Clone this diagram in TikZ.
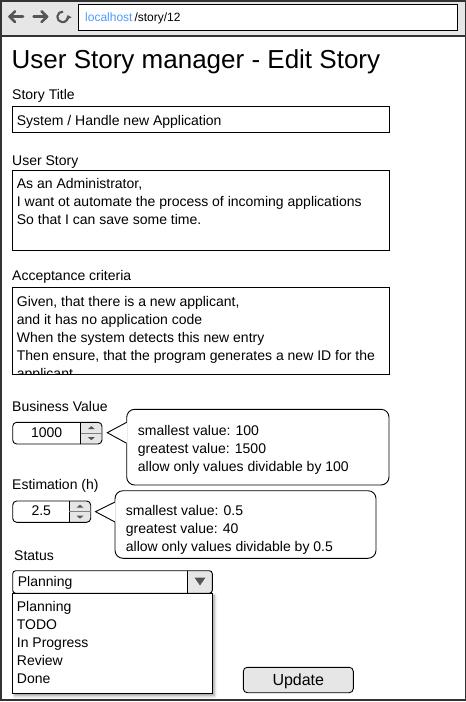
\documentclass[tikz,border=0pt]{standalone}
\usepackage{fontspec}
\setmainfont{Liberation Sans}
\usepackage{tikz}
\usetikzlibrary{arrows.meta,shadows.blur}

\definecolor{barGray}{HTML}{E6E6E6}
\definecolor{iconGray}{HTML}{555555}
\definecolor{linkBlue}{HTML}{4D9BFF}
\definecolor{frameGray}{HTML}{333333}

\begin{document}
\begin{tikzpicture}[x=1pt,y=-1pt]

    \tikzstyle{frame}=[draw=frameGray, line width=1.5pt]
    \tikzstyle{box}=[draw=black, line width=0.9pt]
    \tikzstyle{button}=[box, fill=barGray]
    \tikzstyle{hintbox}=[box, rounded corners=8pt]
    \tikzstyle{icon}=[draw=iconGray, line width=2.6pt, line cap=round, line join=round]
    \tikzstyle{txt}=[inner sep=0pt, anchor=base west, font=\fontsize{14}{18}\selectfont]
    \tikzstyle{ctxt}=[txt, anchor=base]

    \def \lineH {18} % line distance of the multi line texts

    \newcommand\textlines[4]{
        \foreach \txtline [count=\i] in {#4}
            \node[txt] (#1\i) at (#2, {#3 + \lineH*(\i - 1)}) {\txtline};
    }
    %\textlines{name}{x}{first baseline}{lines};

    \newcommand\spinner[5]{
        \begin{scope}
            \clip[rounded corners=4pt] (#1,#2) rectangle (#3,#4);
            \fill[barGray] (#5,#2) rectangle (#3,#4);
        \end{scope}
        \draw[box, rounded corners=4pt] (#1,#2) rectangle (#3,#4);
        \draw[box] (#5,#2) -- (#5,#4);
        \draw[draw=gray, line width=0.5pt] (#5,{(#2+#4)/2}) -- (#3,{(#2+#4)/2});
        \fill[iconGray] ({(#5+#3)/2 - 3.5},{(#2+#4)/2 - 4}) -- ++(7,0) -- ++(-3.5,-3) -- cycle;
        \fill[iconGray] ({(#5+#3)/2 - 3.5},{(#2+#4)/2 + 4}) -- ++(7,0) -- ++(-3.5,3) -- cycle;
    }
    %\spinner{x1}{y1}{x2}{y2}{button x};

    \useasboundingbox (0,0) rectangle (466,702);

    % browser bar
    \fill[barGray] (0.75,0.75) rectangle (465.25,36);
    \draw[box, fill=white] (78.7,4.7) rectangle (457.3,30.7);
    \node[txt, font=\fontsize{12}{14}\selectfont] (url) at (85,21.7) {\textcolor{linkBlue}{localhost}\,/story/12};
    \draw[icon] (23,16.7) -- (9.6,16.7);
    \draw[icon] (15,11.4) -- (9.6,16.7) -- (15,22);
    \draw[icon] (33.6,16.7) -- (47,16.7);
    \draw[icon] (41.6,11.4) -- (47,16.7) -- (41.6,22);
    \draw[icon, line width=2.1pt, line cap=butt, -{Triangle[length=3.6pt,width=6pt]}] ([shift={(275:5.3)}]62.6,16.9) arc (275:-20:5.3);

    % page frame
    \draw[frame] (0.75,0.75) rectangle (465.25,700);
    \draw[frame] (0.75,36) -- (465.25,36);

    % heading and form labels
    \node[txt, font=\fontsize{26}{30}\selectfont] (page_title) at (11.5,68.3) {User Story manager - Edit Story};
    \node[txt] (title_lbl) at (12,99.3) {Story Title};
    \node[txt] (story_lbl) at (12,165) {User Story};
    \node[txt] (accept_lbl) at (12,280) {Acceptance criteria};
    \node[txt] (value_lbl) at (12,411.7) {Business Value};
    \node[txt] (estim_lbl) at (12,489.3) {Estimation (h)};
    \node[txt] (status_lbl) at (14,560) {Status};

    % text fields
    \draw[box] (12.7,106.7) rectangle (389.3,132.3);
    \node[txt] (title_val) at (16.7,125) {System / Handle new Application};

    \draw[box] (12.7,170.7) rectangle (389.3,250);
    \textlines{story}{16.7}{188.5}{{As an Administrator,},{I want ot automate the process of incoming applications},{So that I can save some time.}};

    \begin{scope}
        \clip (12.7,287.7) rectangle (389.3,374.3);
        \textlines{accept}{16.7}{306}{{Given, that there is a new applicant,},{and it has no application code},{When the system detects this new entry},{Then ensure, that the program generates a new ID for the},{applicant}};
    \end{scope}
    \draw[box] (12.7,287.7) rectangle (389.3,374.3);

    % number inputs
    \spinner{12.7}{422.3}{102}{444}{80.7};
    \node[ctxt] (value_val) at (46.7,437.3) {1000};
    \spinner{12.7}{501}{90.7}{522.3}{69.3};
    \node[ctxt] (estim_val) at (41.3,515) {2.5};

    % hints next to the number inputs
    \draw[hintbox] (126.7,409.3) rectangle (389,485);
    \fill[white] (107.3,432.7) -- (127.4,421.6) -- (127.4,444) -- cycle;
    \draw[box, line join=miter] (126.7,422.3) -- (107.3,432.7) -- (126.7,443.3);
    \textlines{value_hint}{137.7}{435}{{smallest value: 100},{greatest value: 1500},{allow only values dividable by 100}};

    \draw[hintbox] (115,490.7) rectangle (376,558.3);
    \fill[white] (95.5,511.7) -- (115.7,501.3) -- (115.7,522.7) -- cycle;
    \draw[box, line join=miter] (115,502) -- (95.5,511.7) -- (115,522);
    \textlines{estim_hint}{125.7}{515}{{smallest value: 0.5},{greatest value: 40},{allow only values dividable by 0.5}};

    % status select with open list
    \draw[box, fill=white, blur shadow={shadow xshift=2pt, shadow yshift=-2.5pt, shadow blur radius=3pt}] (12.7,593.3) rectangle (212.3,693.3);
    \textlines{status_opt}{16.7}{611.7}{Planning,TODO,In Progress,Review,Done};
    \begin{scope}
        \clip[rounded corners=3pt] (12.7,570.7) rectangle (212.3,593.3);
        \fill[white] (12.7,570.7) rectangle (187.7,593.3);
        \fill[barGray] (187.7,570.7) rectangle (212.3,593.3);
    \end{scope}
    \draw[box, rounded corners=3pt] (12.7,570.7) rectangle (212.3,593.3);
    \draw[box] (187.7,570.7) -- (187.7,593.3);
    \fill[iconGray] (194.5,577.5) -- (205.5,577.5) -- (200,585.5) -- cycle;
    \node[txt] (status_val) at (17.7,586.7) {Planning};

    % submit
    \draw[button, rounded corners=4pt] (243.3,667.3) rectangle (353.3,692.7);
    \node[ctxt, font=\fontsize{16}{19}\selectfont] (update_btn) at (298.3,685) {Update};

\end{tikzpicture}
\end{document}
